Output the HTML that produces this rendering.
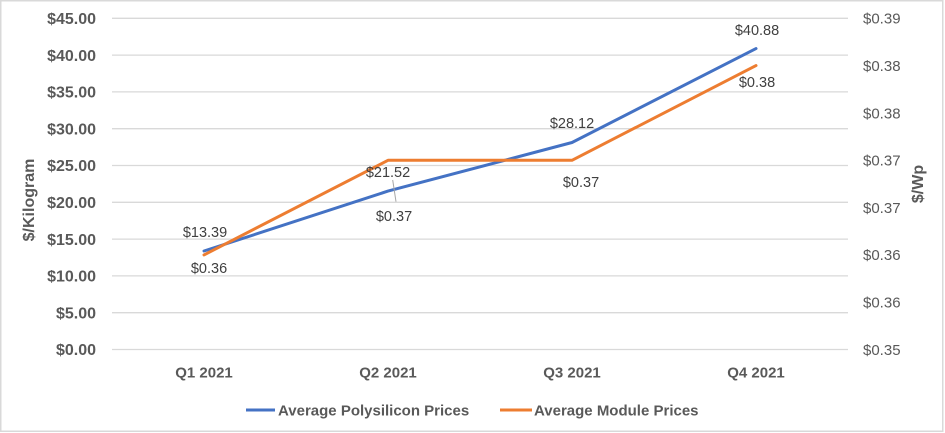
<!DOCTYPE html>
<html>
<head>
<meta charset="utf-8">
<style>
  html, body { margin: 0; padding: 0; background: #ffffff; }
  svg { display: block; }
  text { font-family: "Liberation Sans", Arial, sans-serif; fill: #595959; }
  .yl { font-size: 16px; font-weight: bold; }
  .yr { font-size: 15px; }
  .cat { font-size: 15px; font-weight: bold; }
  .dl { font-size: 14.5px; fill: #404040; }
  .lg { font-size: 15px; font-weight: bold; }
  .tt { font-size: 16px; font-weight: bold; }
</style>
</head>
<body>
<svg width="945" height="433" viewBox="0 0 945 433" xmlns="http://www.w3.org/2000/svg">
  <rect x="0" y="0" width="945" height="433" fill="#ffffff"/>
  <rect x="0.75" y="0.75" width="942" height="430.5" fill="#ffffff" stroke="#d9d9d9" stroke-width="1.5"/>

  <!-- gridlines -->
  <g stroke="#d9d9d9" stroke-width="1.3">
    <line x1="112" x2="848" y1="18.3" y2="18.3"/>
    <line x1="112" x2="848" y1="55.1" y2="55.1"/>
    <line x1="112" x2="848" y1="91.9" y2="91.9"/>
    <line x1="112" x2="848" y1="128.7" y2="128.7"/>
    <line x1="112" x2="848" y1="165.5" y2="165.5"/>
    <line x1="112" x2="848" y1="202.3" y2="202.3"/>
    <line x1="112" x2="848" y1="239.1" y2="239.1"/>
    <line x1="112" x2="848" y1="275.9" y2="275.9"/>
    <line x1="112" x2="848" y1="312.7" y2="312.7"/>
    <line x1="112" x2="848" y1="349.5" y2="349.5"/>
  </g>

  <!-- left axis labels -->
  <g class="yl" text-anchor="end">
    <text class="yl" x="96" y="24">$45.00</text>
    <text class="yl" x="96" y="60.8">$40.00</text>
    <text class="yl" x="96" y="97.6">$35.00</text>
    <text class="yl" x="96" y="134.4">$30.00</text>
    <text class="yl" x="96" y="171.2">$25.00</text>
    <text class="yl" x="96" y="208">$20.00</text>
    <text class="yl" x="96" y="244.8">$15.00</text>
    <text class="yl" x="96" y="281.6">$10.00</text>
    <text class="yl" x="96" y="318.4">$5.00</text>
    <text class="yl" x="96" y="355.2">$0.00</text>
  </g>

  <!-- right axis labels -->
  <g>
    <text class="yr" x="863" y="23.7">$0.39</text>
    <text class="yr" x="863" y="71">$0.38</text>
    <text class="yr" x="863" y="118.3">$0.38</text>
    <text class="yr" x="863" y="165.6">$0.37</text>
    <text class="yr" x="863" y="212.9">$0.37</text>
    <text class="yr" x="863" y="260.2">$0.36</text>
    <text class="yr" x="863" y="307.5">$0.36</text>
    <text class="yr" x="863" y="354.8">$0.35</text>
  </g>

  <!-- axis titles -->
  <text class="tt" text-anchor="middle" transform="translate(34,200) rotate(-90)">$/Kilogram</text>
  <text class="tt" text-anchor="middle" transform="translate(923,184) rotate(-90)">$/Wp</text>

  <!-- category labels -->
  <g text-anchor="middle">
    <text class="cat" x="204" y="377.5">Q1 2021</text>
    <text class="cat" x="388" y="377.5">Q2 2021</text>
    <text class="cat" x="572" y="377.5">Q3 2021</text>
    <text class="cat" x="756" y="377.5">Q4 2021</text>
  </g>

  <!-- series -->
  <polyline points="204,251 388,191.1 572,142.5 756,48.6" fill="none" stroke="#4472c4" stroke-width="3" stroke-linejoin="round" stroke-linecap="round"/>
  <polyline points="204,254.9 388,160.3 572,160.3 756,65.6" fill="none" stroke="#ed7d31" stroke-width="3" stroke-linejoin="round" stroke-linecap="round"/>

  <!-- leader line -->
  <line x1="392.7" y1="180" x2="396" y2="201.7" stroke="#a6a6a6" stroke-width="1"/>

  <!-- data labels -->
  <g text-anchor="middle">
    <text class="dl" x="205" y="237">$13.39</text>
    <text class="dl" x="209" y="273">$0.36</text>
    <text class="dl" x="388" y="177">$21.52</text>
    <text class="dl" x="394" y="221">$0.37</text>
    <text class="dl" x="572" y="128">$28.12</text>
    <text class="dl" x="581" y="187">$0.37</text>
    <text class="dl" x="757" y="35">$40.88</text>
    <text class="dl" x="757" y="87">$0.38</text>
  </g>

  <!-- legend -->
  <line x1="246" y1="410" x2="275" y2="410" stroke="#4472c4" stroke-width="3"/>
  <text class="lg" x="278" y="415.5">Average Polysilicon Prices</text>
  <line x1="500" y1="410" x2="532" y2="410" stroke="#ed7d31" stroke-width="3"/>
  <text class="lg" x="534" y="415.5">Average Module Prices</text>
</svg>
</body>
</html>
